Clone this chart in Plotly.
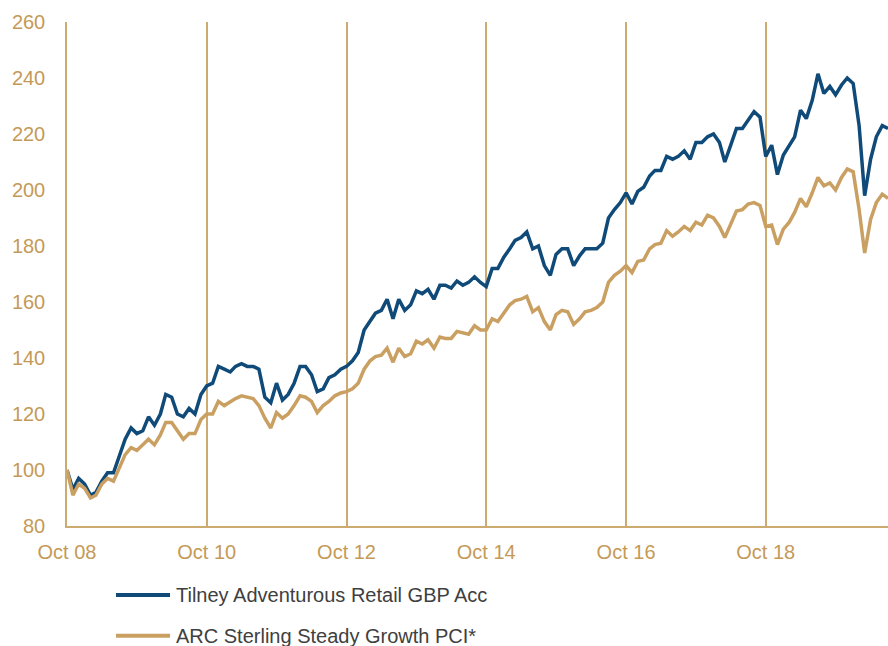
import pandas as pd
import plotly.graph_objects as go

start_month = "2008-10-01"
n_months = 142
months = pd.date_range(start_month, periods=n_months, freq="MS")

series_names = ["Tilney Adventurous Retail GBP Acc", "ARC Sterling Steady Growth PCI*"]

tilney = [
    100, 93, 97, 95, 91, 92, 96, 99, 99, 105,
    111, 115, 113, 114, 119, 116, 120, 127, 126, 120,
    119, 122, 120, 127, 130, 131, 137, 136, 135, 137,
    138, 137, 137, 136, 126, 124, 131, 125, 127, 131,
    137, 137, 134, 128, 129, 133, 134, 136, 137, 139,
    142, 150, 153, 156, 157, 161, 154, 161, 157, 159,
    164, 163, 164.5, 161, 166, 166, 165, 167.5, 166, 167,
    169, 167, 165.5, 172, 172, 176, 179, 182, 183, 185,
    179, 180, 173, 169.5, 177, 179, 179, 173, 176.5, 179,
    179, 179, 181, 190, 193, 195.5, 199, 195, 199.5, 201,
    205, 207, 207, 212, 211, 212, 214, 211, 217, 217,
    219, 220, 217, 210, 216, 222, 222, 225, 228, 226,
    212, 216, 205.5, 212.5, 216, 219, 228.5, 225.5, 232, 241.5,
    234.5, 237, 234, 237.5, 240, 238, 223, 198, 211, 219,
    223, 222,
]

arc = [
    100, 91, 95, 93.5, 90, 91, 95, 97, 96, 101,
    105.5, 108, 107, 109, 111, 109, 112.5, 117, 117, 114,
    111, 113, 113, 118, 120, 120, 124.5, 123, 124.5, 125.5,
    126.5, 126, 125.5, 123, 118.5, 115, 120.5, 118.5, 120, 123,
    126.5, 126, 124.5, 120.5, 123, 124.5, 126.5, 127.5, 128, 129,
    131, 136, 139, 140.5, 141, 143.5, 138.5, 143.5, 140.5, 141.5,
    146, 145, 146.5, 143.5, 147.5, 147, 147, 149.5, 149, 148.5,
    151.5, 150, 150, 154, 153, 156, 159, 160.5, 161, 162,
    156.5, 158, 153, 150, 155.5, 157, 156.5, 152, 154, 156.5,
    157, 158, 160, 167, 169.5, 171, 173, 170.5, 174.5, 175,
    179, 180.5, 181, 185.5, 183.5, 185, 187, 185.5, 188.5, 187.5,
    191, 190, 187, 183, 188, 192.5, 193, 195, 195.5, 194.5,
    187, 187.5, 180.5, 186, 188.5, 192, 197, 194, 199, 204.5,
    201.5, 202.5, 200, 204.5, 207.5, 206.5, 193, 177.5, 189.5, 195.5,
    198.5, 197,
]

y_ticks = [80, 100, 120, 140, 160, 180, 200, 220, 240, 260]

BLUE = "#0F4A78"
TAN = "#C9A062"
AXIS_TAN = "#CDAA70"
LABEL_TAN = "#C49A58"
FONT = "Liberation Sans, Arial, sans-serif"

fig = go.Figure()
fig.add_trace(go.Scatter(x=months, y=tilney, mode="lines", name=series_names[0],
                         line=dict(color=BLUE, width=3.5), showlegend=False))
fig.add_trace(go.Scatter(x=months, y=arc, mode="lines", name=series_names[1],
                         line=dict(color=TAN, width=3.5), showlegend=False))

# custom legend beneath the chart
legend_rows = [(-0.137, BLUE, series_names[0]), (-0.218, TAN, series_names[1])]
for ypos, col, txt in legend_rows:
    fig.add_shape(type="line", xref="paper", yref="paper", x0=0.0597, x1=0.1255,
                  y0=ypos, y1=ypos, line=dict(color=col, width=4))
    fig.add_annotation(xref="paper", yref="paper", x=0.1305, y=ypos, text=txt,
                       showarrow=False, xanchor="left", yanchor="middle",
                       font=dict(family=FONT, size=20, color="#404040"))

fig.update_layout(
    width=888, height=646,
    margin=dict(l=67, r=0, t=22, b=120),
    paper_bgcolor="white", plot_bgcolor="white",
    font=dict(family=FONT, size=20, color=LABEL_TAN),
)
fig.update_xaxes(
    type="date",
    range=[months[0], months[-1]],
    tick0=start_month, dtick="M24", tickformat="%b %y",
    showgrid=True, gridcolor=AXIS_TAN, gridwidth=1.5,
    showline=True, linecolor=AXIS_TAN, linewidth=1.5,
    ticks="", zeroline=False, ticklabelstandoff=7,
    tickfont=dict(family=FONT, size=20, color=LABEL_TAN),
)
fig.update_yaxes(
    range=[80, 260], tickvals=y_ticks,
    showgrid=False, showline=True, linecolor=AXIS_TAN, linewidth=1.5,
    ticks="", zeroline=False, ticklabelstandoff=16,
    tickfont=dict(family=FONT, size=20, color=LABEL_TAN),
)

fig.write_html(
    "out.html",
    config={"displayModeBar": False},
    post_script="document.body.style.margin='0';document.body.style.overflow='hidden';",
)
